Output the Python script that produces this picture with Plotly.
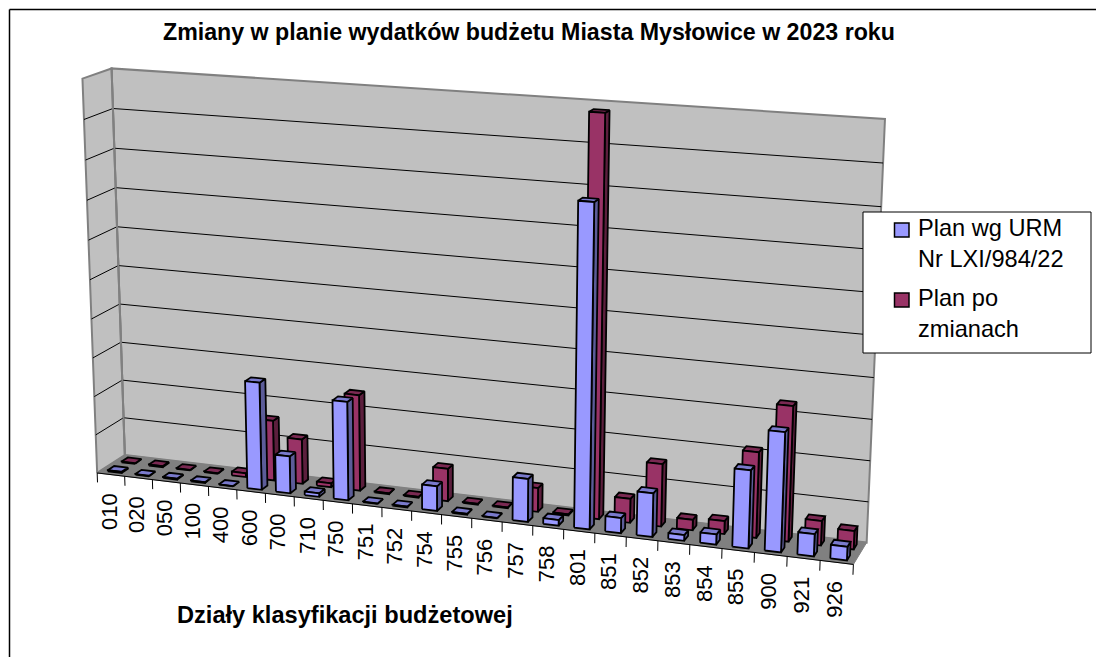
import numpy as np
import plotly.graph_objects as go

# ---- data (mln zł: one interval = 20) ----
categories = ["010", "020", "050", "100", "400", "600", "700", "710", "750", "751", "752", "754", "755",
              "756", "757", "758", "801", "851", "852", "853", "854", "855", "900", "921", "926"]
plan_urm = [0.6, 0.3, 0.5, 0.4, 0.2, 55.0, 19.0, 1.8, 50.0, 0.2, 0.4, 12.5, 0.4,
            0.2, 21.5, 2.8, 158.0, 7.5, 21.5, 2.8, 5.0, 38.0, 58.0, 10.8, 6.6]
plan_zm = [0.4, 0.5, 0.3, 0.3, 2.0, 31.0, 23.0, 2.0, 49.0, 0.4, 0.4, 16.5, 0.4,
           0.4, 12.0, 0.6, 196.5, 12.0, 31.0, 5.2, 6.4, 42.0, 66.0, 12.0, 9.0]
series_names = ["Plan wg URM<br>Nr LXI/984/22", "Plan po<br>zmianach"]
series_colors = ["#9999FF", "#993366"]
title_text = "Zmiany w planie wydatków budżetu Miasta Mysłowice w 2023 roku"
axis_title = "Działy klasyfikacji budżetowej"
z_max = 200
z_step = 20

# ---- projection of the 3-D box on the page, calibrated on its corners ----
box_world = [(0, 1, 1), (1, 1, 1), (0, 1, 0), (1, 1, 0), (0, 0, 1), (0, 0, 0), (1, 0, 0)]
box_page = [(111, 69), (885, 119), (125, 455), (867, 542), (83, 78), (97, 473), (853, 565)]
A = []
for (X, Y, Z), (u, v) in zip(box_world, box_page):
    A.append([X, Y, Z, 1, 0, 0, 0, 0, -u * X, -u * Y, -u * Z, -u])
    A.append([0, 0, 0, 0, X, Y, Z, 1, -v * X, -v * Y, -v * Z, -v])
P = np.linalg.svd(np.array(A, float))[2][-1].reshape(3, 4)
n = len(categories)


def proj(cat, row, val):
    """cat: position along categories, row: 0..2 front to back, val: in data units."""
    h = P @ np.array([cat / n, row / 2, val / z_max, 1.0])
    return h[0] / h[2], h[1] / h[2]


def polys(faces):
    xs, ys = [], []
    for face in faces:
        pts = [proj(*p) for p in face]
        pts.append(pts[0])
        xs += [p[0] for p in pts] + [None]
        ys += [p[1] for p in pts] + [None]
    return xs, ys


def segs(items):
    xs, ys = [], []
    for a, b in items:
        p, q = proj(*a), proj(*b)
        xs += [p[0], q[0], None]
        ys += [p[1], q[1], None]
    return xs, ys


fig = go.Figure()


def add_poly(faces, fill, line="black", width=1.8, name=None):
    x, y = polys(faces)
    fig.add_trace(go.Scatter(x=x, y=y, mode="lines", fill="toself", fillcolor=fill, name=name,
                             line=dict(color=line, width=width), hoverinfo="skip", showlegend=False))


def add_lines(items, color, width):
    x, y = segs(items)
    fig.add_trace(go.Scatter(x=x, y=y, mode="lines", line=dict(color=color, width=width),
                             hoverinfo="skip", showlegend=False))


# walls and floor
add_poly([[(0, 2, 0), (n, 2, 0), (n, 2, z_max), (0, 2, z_max)]], "#C0C0C0", "#808080", 2)
add_poly([[(0, 0, 0), (0, 2, 0), (0, 2, z_max), (0, 0, z_max)]], "#C0C0C0", "#808080", 2)
add_poly([[(0, 0, 0), (n, 0, 0), (n, 2, 0), (0, 2, 0)]], "#808080", "#808080", 1)
levels = range(z_step, z_max, z_step)
add_lines([((0, 2, z), (n, 2, z)) for z in levels] + [((0, 0, z), (0, 2, z)) for z in levels], "#000000", 1)
add_lines([((0, 2, 0), (0, 2, z_max))], "#808080", 2)
add_lines([((i, 0, 0), (i, 0, -5)) for i in range(n + 1)], "#000000", 1)
add_lines([((0, 0, 0), (n, 0, 0))], "#000000", 1)

# bars: back row first
BAR_L, BAR_R = 0.25, 0.75
DEPTH = 0.23
rows = [(1.5, plan_zm, series_names[1], "#993366", "#7A2952", "#5C1F3D"),
        (0.5, plan_urm, series_names[0], "#9999FF", "#7A7ACC", "#5C5C99")]
for rc, vals, nm, front, top, side in rows:
    y0, y1 = rc - DEPTH, rc + DEPTH
    sides, tops, fronts = [], [], []
    for i, v in enumerate(vals):
        a, b = i + BAR_L, i + BAR_R
        sides.append([(b, y0, 0), (b, y1, 0), (b, y1, v), (b, y0, v)])
        tops.append([(a, y0, v), (b, y0, v), (b, y1, v), (a, y1, v)])
        fronts.append([(a, y0, 0), (b, y0, 0), (b, y0, v), (a, y0, v)])
    add_poly(sides, side)
    add_poly(tops, top)
    add_poly(fronts, front, name=nm.replace("<br>", " "))

annotations = []
FONT = "Liberation Sans"
for i, c in enumerate(categories):
    px, py = proj(i + 0.5, 0, 0)
    annotations.append(dict(x=px - 2, y=py + 16, xref="x", yref="y", text=c, showarrow=False, textangle=-90,
                            xanchor="center", yanchor="top", font=dict(family=FONT, size=22, color="black")))
annotations.append(dict(x=529, y=32, xref="x", yref="y", text="<b>%s</b>" % title_text, showarrow=False,
                        font=dict(family=FONT, size=23.2, color="black")))
annotations.append(dict(x=345, y=615, xref="x", yref="y", text="<b>%s</b>" % axis_title, showarrow=False,
                        font=dict(family=FONT, size=23.6, color="black")))

# legend box
LEG_X0, LEG_X1, LEG_Y0, LEG_Y1 = 863, 1091, 212, 353
shapes = [dict(type="line", x0=9.5, x1=9.5, y0=9.5, y1=657, line=dict(color="black", width=1.5)),
          dict(type="line", x0=9.5, x1=1096, y0=9.5, y1=9.5, line=dict(color="black", width=1.5)),
          dict(type="rect", x0=LEG_X0, x1=LEG_X1, y0=LEG_Y0, y1=LEG_Y1, fillcolor="white",
               line=dict(color="black", width=1))]
for nm, col, yc_mark, yc_text in zip(series_names, series_colors, [230, 300], [243, 313.5]):
    shapes.append(dict(type="rect", x0=894.5, x1=909, y0=yc_mark - 7, y1=yc_mark + 7, fillcolor=col,
                       line=dict(color="black", width=1.5)))
    annotations.append(dict(x=916, y=yc_text, xref="x", yref="y", text=nm, showarrow=False, xanchor="left",
                            align="left", font=dict(family=FONT, size=23.6, color="black")))

fig.update_layout(
    width=1096, height=657, margin=dict(l=0, r=0, t=0, b=0), autosize=False,
    paper_bgcolor="white", plot_bgcolor="white", showlegend=False,
    xaxis=dict(range=[0, 1096], visible=False, fixedrange=True),
    yaxis=dict(range=[657, 0], visible=False, fixedrange=True),
    annotations=annotations, shapes=shapes,
)
fig.write_html("out.html", post_script="document.body.style.margin='0';", config={"displayModeBar": False})
